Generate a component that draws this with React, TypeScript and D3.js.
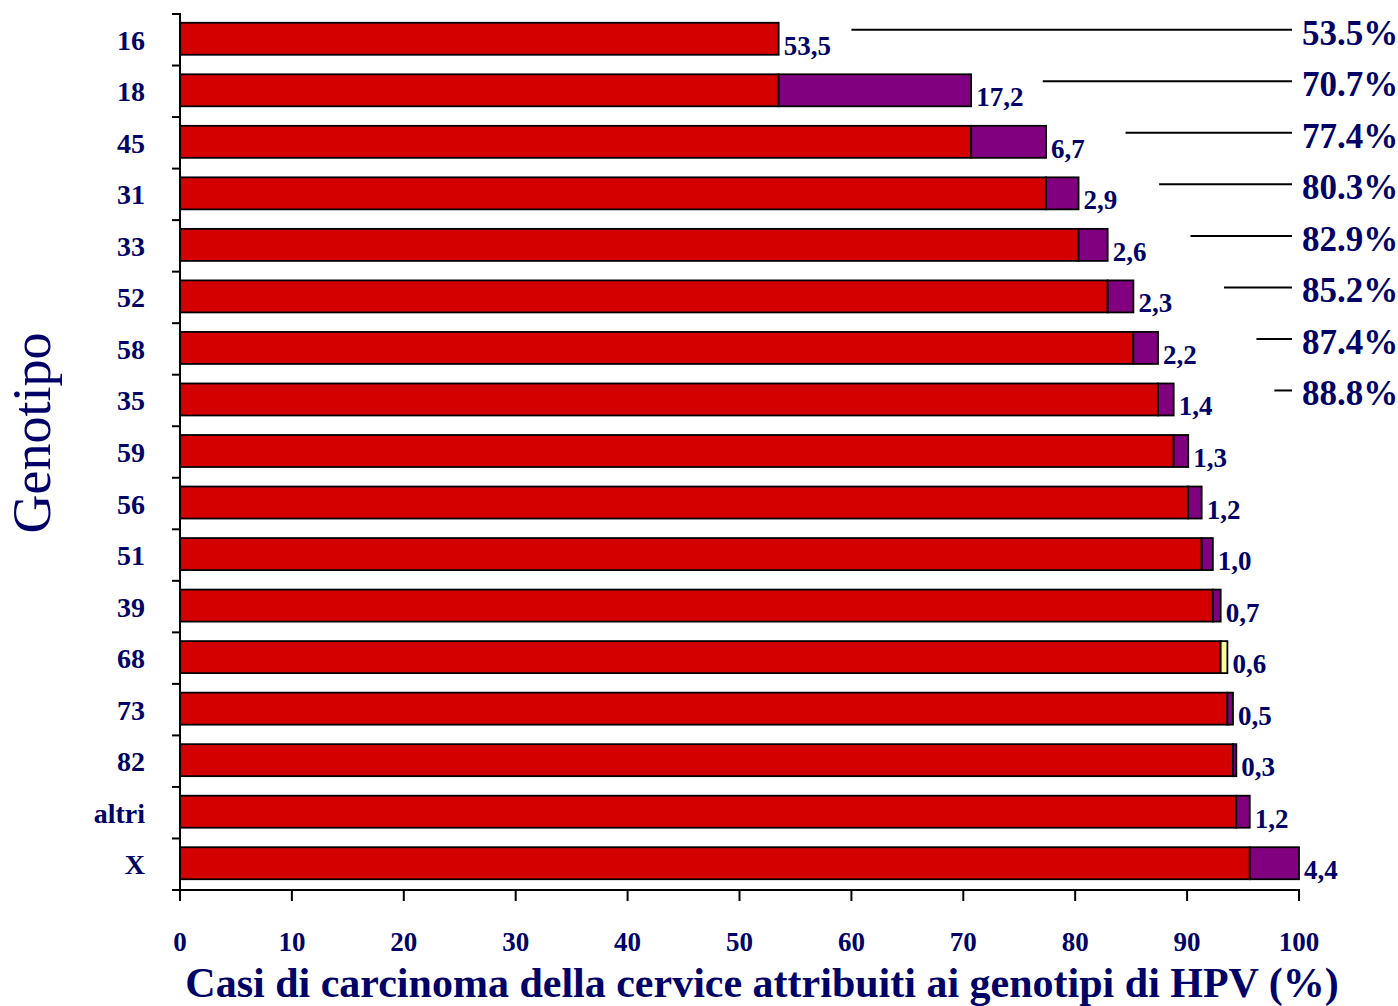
import React from "react";
import * as d3 from "d3";

const categories = ["16", "18", "45", "31", "33", "52", "58", "35", "59", "56", "51", "39", "68", "73", "82", "altri", "X"];
const increments = [53.5, 17.2, 6.7, 2.9, 2.6, 2.3, 2.2, 1.4, 1.3, 1.2, 1.0, 0.7, 0.6, 0.5, 0.3, 1.2, 4.4];
const incrementLabels = ["53,5", "17,2", "6,7", "2,9", "2,6", "2,3", "2,2", "1,4", "1,3", "1,2", "1,0", "0,7", "0,6", "0,5", "0,3", "1,2", "4,4"];
const highlightCategory = "68";
const cumulativeLabels = ["53.5%", "70.7%", "77.4%", "80.3%", "82.9%", "85.2%", "87.4%", "88.8%"];
const leaderStartValues = [60.0, 77.1, 84.5, 87.5, 90.3, 93.3, 96.2, 97.8];
const xTicks = [0, 10, 20, 30, 40, 50, 60, 70, 80, 90, 100];

const W = 1398;
const H = 1006;
const RED = "#d40000";
const PURPLE = "#800080";
const YELLOW = "#ffff99";
const NAVY = "#000066";
const FONT = "'Liberation Serif', 'DejaVu Serif', serif";

export default function App() {
  const x = d3.scaleLinear().domain([0, 100]).range([180, 1299]);
  const y = d3.scaleBand<string>().domain(categories).range([14, 890]).padding(0);
  const step = y.step();
  const barH = 32;

  let acc = 0;
  const rows = categories.map((c, i) => {
    const start = acc;
    acc = +(acc + increments[i]).toFixed(1);
    return { c, start, end: acc, inc: increments[i], label: incrementLabels[i] };
  });

  return (
    <svg width={W} height={H} style={{ position: "absolute", left: 0, top: 0, background: "#fff" }}>
      {rows.map((r, i) => {
        const cy = (y(r.c) as number) + step / 2 - 1;
        const top = cy - barH / 2;
        const fill2 = r.c === highlightCategory ? YELLOW : i === 0 ? RED : PURPLE;
        return (
          <g key={r.c}>
            {i > 0 && (
              <rect x={x(0)} y={top} width={x(r.start) - x(0)} height={barH} fill={RED} stroke="#000" strokeWidth={1.8} />
            )}
            <rect
              x={i === 0 ? x(0) : x(r.start)}
              y={top}
              width={i === 0 ? x(r.end) - x(0) : x(r.end) - x(r.start)}
              height={barH}
              fill={i === 0 ? RED : fill2}
              stroke="#000"
              strokeWidth={1.8}
            />
            <text x={x(r.end) + 5} y={cy + 16} fill={NAVY} fontFamily={FONT} fontWeight="bold" fontSize={27}>
              {r.label}
            </text>
          </g>
        );
      })}

      {cumulativeLabels.map((lab, i) => {
        const cy = (y(categories[i]) as number) + step / 2 - 10;
        return (
          <g key={lab}>
            <line x1={x(leaderStartValues[i])} x2={1292} y1={cy} y2={cy} stroke="#000" strokeWidth={2} />
            <text x={1302} y={cy + 15} fill={NAVY} fontFamily={FONT} fontWeight="bold" fontSize={35}>
              {lab}
            </text>
          </g>
        );
      })}

      <line x1={180} x2={180} y1={13} y2={891} stroke="#000" strokeWidth={2} />
      {d3.range(categories.length + 1).map((k) => (
        <line key={k} x1={172} x2={180} y1={14 + k * step} y2={14 + k * step} stroke="#000" strokeWidth={2} />
      ))}
      {categories.map((c) => (
        <text
          key={c}
          x={145}
          y={(y(c) as number) + step / 2 + 10}
          textAnchor="end"
          fill={NAVY}
          fontFamily={FONT}
          fontWeight="bold"
          fontSize={28}
        >
          {c}
        </text>
      ))}

      <line x1={172} x2={1300} y1={890} y2={890} stroke="#000" strokeWidth={2} />
      {xTicks.map((t) => (
        <g key={t}>
          <line x1={x(t)} x2={x(t)} y1={890} y2={901} stroke="#000" strokeWidth={2} />
          <text x={x(t)} y={951} textAnchor="middle" fill={NAVY} fontFamily={FONT} fontWeight="bold" fontSize={27}>
            {t}
          </text>
        </g>
      ))}

      <text x={762} y={997} textAnchor="middle" fill={NAVY} fontFamily={FONT} fontWeight="bold" fontSize={42}>
        Casi di carcinoma della cervice attribuiti ai genotipi di HPV (%)
      </text>
      <text
        transform="translate(50,433) rotate(-90)"
        textAnchor="middle"
        fill={NAVY}
        fontFamily={FONT}
        fontSize={54}
      >
        Genotipo
      </text>
    </svg>
  );
}
